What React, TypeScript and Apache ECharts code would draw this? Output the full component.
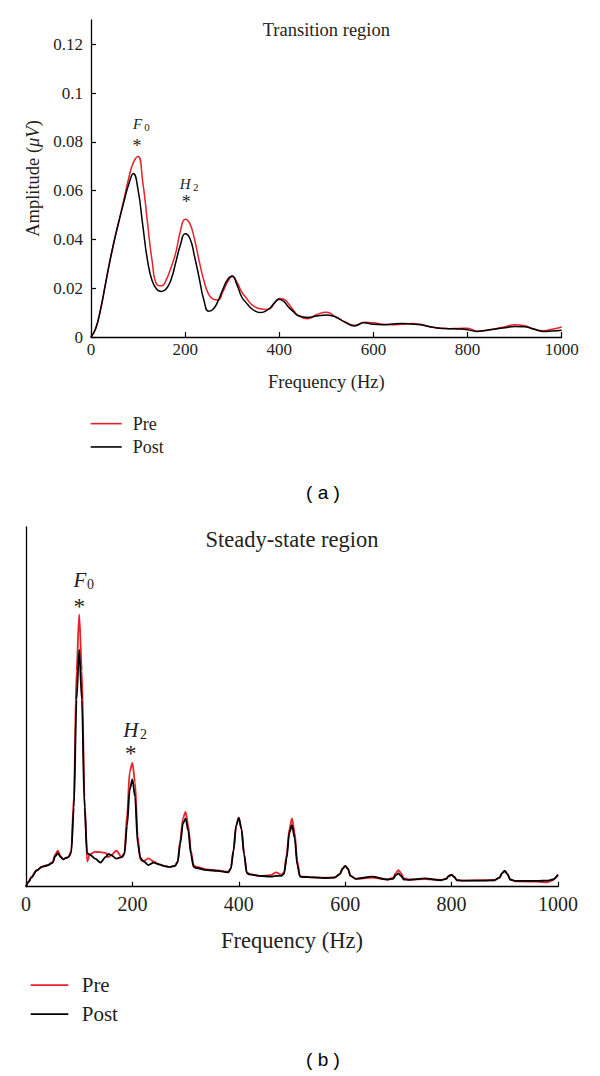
import React, { useEffect, useRef } from "react";
import * as echarts from "echarts";

// ---------- Panel (a): Transition region ----------
const transFreq = [
  0, 10, 20, 30, 40, 50, 60, 70, 80, 90, 100, 110, 120, 130, 140, 150, 160, 170, 180, 190,
  200, 210, 220, 230, 240, 250, 260, 270, 280, 290, 300, 310, 320, 330, 340, 350, 360, 370,
  380, 390, 400, 410, 420, 430, 440, 460, 480, 500, 520, 540, 560, 580, 600, 620, 640, 660,
  680, 700, 720, 740, 760, 780, 800, 820, 840, 860, 880, 900, 920, 940, 960, 980, 1000,
];
const transPre = [
  0, 0.0035, 0.011, 0.021, 0.031, 0.04, 0.048, 0.0565, 0.065, 0.0715, 0.074, 0.0635, 0.047,
  0.031, 0.0215, 0.021, 0.0235, 0.0285, 0.0345, 0.0435, 0.0483, 0.0465, 0.04, 0.031, 0.023,
  0.0175, 0.0155, 0.0152, 0.0185, 0.0225, 0.0248, 0.0225, 0.0185, 0.016, 0.0135, 0.0122,
  0.0116, 0.0113, 0.0116, 0.014, 0.0158, 0.0155, 0.0135, 0.011, 0.0088, 0.0075, 0.0092,
  0.0102, 0.0082, 0.0062, 0.0048, 0.006, 0.0058, 0.0052, 0.005, 0.0052, 0.0055, 0.0052,
  0.0042, 0.0037, 0.0034, 0.0035, 0.0036, 0.0024, 0.0027, 0.0034, 0.0042, 0.005, 0.0047,
  0.0033, 0.0026, 0.0032, 0.0041,
];
const transPost = [
  0, 0.0035, 0.011, 0.021, 0.031, 0.04, 0.048, 0.0555, 0.0625, 0.067, 0.0603, 0.0458,
  0.0315, 0.023, 0.0195, 0.0187, 0.0198, 0.0235, 0.0305, 0.0378, 0.0423, 0.0405, 0.033,
  0.024, 0.015, 0.0106, 0.0115, 0.0148, 0.0195, 0.0235, 0.025, 0.0215, 0.0165, 0.014,
  0.0118, 0.0105, 0.01, 0.0105, 0.0118, 0.014, 0.0155, 0.0145, 0.0122, 0.0104, 0.0088,
  0.008, 0.0086, 0.009, 0.0082, 0.006, 0.0045, 0.0058, 0.0052, 0.005, 0.0053, 0.0055,
  0.0053, 0.005, 0.0042, 0.0036, 0.0034, 0.0033, 0.003, 0.0023, 0.0028, 0.0033, 0.0038,
  0.0043, 0.0042, 0.0033, 0.0023, 0.0025, 0.0028,
];
const ampTicks = [0, 0.02, 0.04, 0.06, 0.08, 0.1, 0.12];

// ---------- Panel (b): Steady-state region ----------
const steadyFreq = [
  0, 5, 10, 20, 30, 40, 50, 55, 60, 65, 70, 75, 80, 85, 90, 95, 100, 105, 110, 115, 120, 130,
  140, 150, 155, 160, 170, 180, 185, 190, 195, 200, 205, 210, 215, 220, 230, 240, 250, 260,
  270, 280, 285, 290, 295, 300, 305, 310, 315, 320, 340, 360, 380, 385, 390, 395, 400, 405,
  410, 415, 420, 440, 460, 470, 480, 485, 490, 495, 500, 505, 510, 515, 520, 540, 560, 580,
  590, 595, 600, 605, 610, 620, 650, 680, 690, 695, 700, 705, 710, 720, 750, 780, 790, 795,
  800, 805, 810, 820, 860, 880, 890, 895, 900, 905, 910, 920, 960, 980, 990, 1000,
];
const steadyPre = [
  0, 0.015, 0.027, 0.045, 0.056, 0.06, 0.068, 0.09, 0.1, 0.085, 0.076, 0.08, 0.083, 0.1,
  0.25, 0.6, 0.757, 0.6, 0.25, 0.07, 0.09, 0.097, 0.096, 0.094, 0.082, 0.088, 0.1, 0.082,
  0.095, 0.2, 0.32, 0.344, 0.29, 0.14, 0.075, 0.07, 0.079, 0.07, 0.062, 0.058, 0.055,
  0.058, 0.07, 0.13, 0.19, 0.208, 0.17, 0.1, 0.06, 0.055, 0.048, 0.045, 0.042, 0.05, 0.1,
  0.17, 0.192, 0.16, 0.09, 0.04, 0.035, 0.03, 0.032, 0.04, 0.033, 0.04, 0.09, 0.16, 0.19,
  0.15, 0.07, 0.03, 0.028, 0.026, 0.025, 0.026, 0.035, 0.05, 0.058, 0.05, 0.03, 0.022,
  0.025, 0.02, 0.025, 0.038, 0.046, 0.038, 0.024, 0.02, 0.021, 0.019, 0.022, 0.03, 0.033,
  0.027, 0.018, 0.017, 0.018, 0.018, 0.025, 0.038, 0.044, 0.035, 0.02, 0.015, 0.014, 0.012,
  0.018, 0.035,
];
const steadyPost = [
  0, 0.013, 0.025, 0.045, 0.055, 0.059, 0.066, 0.085, 0.093, 0.082, 0.076, 0.08, 0.082,
  0.095, 0.22, 0.52, 0.66, 0.52, 0.22, 0.093, 0.089, 0.078, 0.067, 0.083, 0.091, 0.088,
  0.078, 0.082, 0.09, 0.17, 0.27, 0.298, 0.25, 0.12, 0.08, 0.072, 0.06, 0.067, 0.062, 0.057,
  0.055, 0.058, 0.068, 0.12, 0.175, 0.19, 0.155, 0.09, 0.055, 0.052, 0.046, 0.044, 0.04,
  0.05, 0.1, 0.17, 0.192, 0.16, 0.09, 0.038, 0.034, 0.03, 0.028, 0.03, 0.03, 0.036, 0.08,
  0.15, 0.171, 0.135, 0.06, 0.028, 0.027, 0.026, 0.024, 0.025, 0.035, 0.05, 0.058, 0.05,
  0.03, 0.022, 0.028, 0.02, 0.022, 0.032, 0.037, 0.03, 0.02, 0.019, 0.023, 0.018, 0.022,
  0.03, 0.033, 0.027, 0.018, 0.017, 0.017, 0.018, 0.025, 0.038, 0.044, 0.035, 0.02, 0.016,
  0.016, 0.017, 0.02, 0.032,
];

const freqTicks = [0, 200, 400, 600, 800, 1000];
const seriesNames = ["Pre", "Post"];
const titles = ["Transition region", "Steady-state region"];
const captions = ["( a )", "( b )"];

const RED = "#e6222a";
const BLACK = "#000000";
const TXT = "#231f20";
const SERIF = "'Liberation Serif', 'Times New Roman', serif";
const SANS = "'Liberation Sans', Arial, sans-serif";

function pairs(xs: number[], ys: number[]) {
  return xs.map((x, i) => [x, ys[i]]);
}
function peakNear(xs: number[], ys: number[], f: number) {
  let best = -1;
  let bi = 0;
  xs.forEach((x, i) => {
    if (Math.abs(x - f) <= 15 && ys[i] > best) {
      best = ys[i];
      bi = i;
    }
  });
  return [xs[bi], ys[bi]];
}

function labelPoint(coord: number[], offset: number[], text: string, style: any) {
  return {
    coord,
    symbol: "circle",
    symbolSize: 1,
    itemStyle: { color: "rgba(0,0,0,0)" },
    label: {
      show: true,
      position: "inside",
      offset,
      formatter: text,
      fontFamily: SERIF,
      color: TXT,
      ...style,
    },
  };
}

function annot(
  coord: number[],
  letter: string,
  sub: string,
  letterSize: number,
  subSize: number,
  starSize: number,
  starOff: number[],
  letterOff: number[],
  subOff: number[]
) {
  return [
    labelPoint(coord, starOff, "*", { fontSize: starSize, lineHeight: Math.round(starSize * 0.5) }),
    labelPoint(coord, letterOff, letter, {
      fontSize: letterSize,
      fontStyle: "italic",
      lineHeight: Math.round(letterSize * 0.8),
    }),
    labelPoint(coord, subOff, sub, { fontSize: subSize, lineHeight: Math.round(subSize * 0.8) }),
  ];
}

export default function App() {
  const ref = useRef<HTMLDivElement>(null);
  useEffect(() => {
    if (!ref.current) return;
    const chart = echarts.init(ref.current, undefined, { renderer: "svg" });

    const G1 = { left: 91, top: 20, width: 470.7, height: 317 };
    const G2 = { left: 26, top: 527, width: 532, height: 359.7 };

    const tf0 = peakNear(transFreq, transPre, 100);
    const th2 = peakNear(transFreq, transPre, 200);
    const sf0 = peakNear(steadyFreq, steadyPre, 100);
    const sh2 = peakNear(steadyFreq, steadyPre, 200);

    const xAxisBase = (gridIndex: number, fs: number, margin: number) => ({
      gridIndex,
      type: "value",
      min: freqTicks[0],
      max: freqTicks[freqTicks.length - 1],
      interval: freqTicks[1] - freqTicks[0],
      axisLine: { show: true, onZero: false, lineStyle: { color: BLACK, width: 1.3 } },
      axisTick: { show: true, inside: true, length: 5, lineStyle: { color: BLACK, width: 1.2 } },
      axisLabel: {
        margin,
        fontSize: fs,
        fontFamily: SERIF,
        color: TXT,
        formatter: (v: number) => String(v),
      },
      splitLine: { show: false },
    });

    const option: any = {
      animation: false,
      backgroundColor: "#ffffff",
      grid: [
        { ...G1, containLabel: false },
        { ...G2, containLabel: false },
      ],
      xAxis: [
        {
          ...xAxisBase(0, 17, 4),
          name: "Frequency (Hz)",
          nameLocation: "middle",
          nameGap: 35,
          nameTextStyle: { fontSize: 18.5, fontFamily: SERIF, color: TXT },
        },
        {
          ...xAxisBase(1, 20, 7),
          name: "Frequency (Hz)",
          nameLocation: "middle",
          nameGap: 42,
          nameTextStyle: { fontSize: 22.5, fontFamily: SERIF, color: TXT },
        },
      ],
      yAxis: [
        {
          gridIndex: 0,
          type: "value",
          min: 0,
          max: 0.13,
          axisLine: { show: true, onZero: false, lineStyle: { color: BLACK, width: 1.3 } },
          axisTick: {
            show: true,
            inside: true,
            length: 5,
            customValues: ampTicks,
            lineStyle: { color: BLACK, width: 1.2 },
          },
          axisLabel: {
            customValues: ampTicks,
            margin: 8,
            fontSize: 17,
            fontFamily: SERIF,
            color: TXT,
          },
          splitLine: { show: false },
          name: "Amplitude ({m|μV})",
          nameLocation: "middle",
          nameGap: 44,
          nameTextStyle: {
            fontSize: 18.5,
            fontFamily: SERIF,
            color: TXT,
            rich: {
              m: { fontSize: 18.5, fontFamily: SERIF, fontStyle: "italic", color: TXT },
            },
          },
        },
        {
          gridIndex: 1,
          type: "value",
          min: 0,
          max: 1,
          axisLine: { show: true, onZero: false, lineStyle: { color: BLACK, width: 1.3 } },
          axisTick: { show: false },
          axisLabel: { show: false },
          splitLine: { show: false },
        },
      ],
      legend: [
        {
          left: 90.7,
          top: 414.5,
          padding: 0,
          orient: "vertical",
          icon: "rect",
          itemWidth: 31,
          itemHeight: 1.6,
          itemGap: 5,
          data: seriesNames,
          selectedMode: false,
          textStyle: {
            fontSize: 18,
            lineHeight: 18.3,
            fontFamily: SERIF,
            color: TXT,
            padding: [0, 0, 0, 6],
          },
        },
        {
          left: 30.7,
          top: 974,
          padding: 0,
          orient: "vertical",
          icon: "rect",
          itemWidth: 37.6,
          itemHeight: 1.8,
          itemGap: 6.7,
          data: seriesNames,
          selectedMode: false,
          textStyle: {
            fontSize: 21,
            lineHeight: 22.3,
            fontFamily: SERIF,
            color: TXT,
            padding: [0, 0, 0, 8.4],
          },
        },
      ],
      graphic: [
        {
          type: "text",
          style: {
            text: titles[0],
            x: G1.left + G1.width / 2,
            y: 30,
            textAlign: "center",
            textVerticalAlign: "middle",
            fontSize: 18.5,
            fontFamily: SERIF,
            fill: TXT,
          },
        },
        {
          type: "text",
          style: {
            text: titles[1],
            x: G2.left + G2.width / 2,
            y: 539,
            textAlign: "center",
            textVerticalAlign: "middle",
            fontSize: 22.5,
            fontFamily: SERIF,
            fill: TXT,
          },
        },
        {
          type: "text",
          style: {
            text: captions[0],
            x: 323,
            y: 492.5,
            textAlign: "center",
            textVerticalAlign: "middle",
            fontSize: 19,
            fontFamily: SANS,
            fill: BLACK,
          },
        },
        {
          type: "text",
          style: {
            text: captions[1],
            x: 323,
            y: 1059,
            textAlign: "center",
            textVerticalAlign: "middle",
            fontSize: 19,
            fontFamily: SANS,
            fill: BLACK,
          },
        },
      ],
      series: [
        {
          name: seriesNames[0],
          type: "line",
          xAxisIndex: 0,
          yAxisIndex: 0,
          data: pairs(transFreq, transPre),
          showSymbol: false,
          smooth: 0.5,
          lineStyle: { color: RED, width: 1.5 },
          itemStyle: { color: RED },
          z: 2,
          markPoint: {
            data: [
              ...annot(tf0, "F", "0", 15, 11, 18, [-1, -11], [-0.6, -32.3], [9, -29.5]),
              ...annot(th2, "H", "2", 15, 11, 18, [1, -17.7], [0, -35.7], [10.5, -32.4]),
            ],
          },
        },
        {
          name: seriesNames[1],
          type: "line",
          xAxisIndex: 0,
          yAxisIndex: 0,
          data: pairs(transFreq, transPost),
          showSymbol: false,
          smooth: 0.5,
          lineStyle: { color: BLACK, width: 1.5 },
          itemStyle: { color: BLACK },
          z: 3,
        },
        {
          name: seriesNames[0],
          type: "line",
          xAxisIndex: 1,
          yAxisIndex: 1,
          data: pairs(steadyFreq, steadyPre),
          showSymbol: false,
          smooth: 0.3,
          smoothMonotone: "x",
          lineStyle: { color: RED, width: 1.8 },
          itemStyle: { color: RED },
          z: 2,
          markPoint: {
            data: [
              ...annot(sf0, "F", "0", 21, 14, 23, [0, -8], [0.8, -34.1], [11.3, -30.4]),
              ...annot(sh2, "H", "2", 21, 14, 23, [-1.6, -9.1], [-1.6, -33.3], [11.2, -28.8]),
            ],
          },
        },
        {
          name: seriesNames[1],
          type: "line",
          xAxisIndex: 1,
          yAxisIndex: 1,
          data: pairs(steadyFreq, steadyPost),
          showSymbol: false,
          smooth: 0.3,
          smoothMonotone: "x",
          lineStyle: { color: BLACK, width: 1.8 },
          itemStyle: { color: BLACK },
          z: 3,
        },
      ],
    };

    chart.setOption(option);
    return () => chart.dispose();
  }, []);

  return (
    <div
      ref={ref}
      style={{ position: "absolute", left: 0, top: 0, width: 600, height: 1076, background: "#fff" }}
    />
  );
}
